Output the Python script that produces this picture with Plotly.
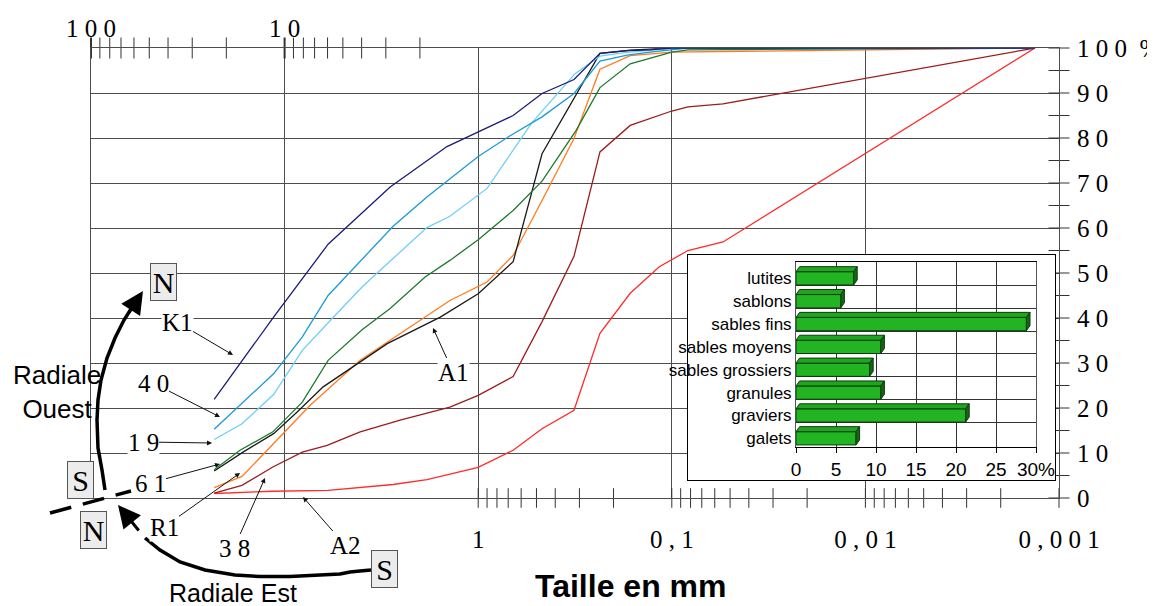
import plotly.graph_objects as go

# ---------------- data (grain size in mm, cumulative % passing) ----------------
K1_size = [23.1, 11.4, 5.96, 2.85, 1.45, 1.0, 0.66, 0.468, 0.32, 0.235, 0.17, 0.13, 0.1, 0.00133]
K1_pct = [21.9, 40.2, 56.4, 69.1, 78.1, 81.3, 85.0, 89.9, 93.0, 98.8, 99.4, 99.6, 100, 100]

S40_size = [23.1, 11.4, 8.1, 5.96, 2.75, 1.84, 1.0, 0.684, 0.468, 0.32, 0.235, 0.17, 0.13, 0.0825, 0.00133]
S40_pct = [15.3, 27.6, 35.8, 45.0, 60.4, 66.9, 75.9, 80.5, 84.7, 89.9, 97.1, 98.4, 99.1, 100, 100]

S19_size = [23.1, 16.6, 11.4, 8.1, 5.68, 3.98, 3.21, 1.84, 1.40, 0.90, 0.53, 0.316, 0.235, 0.179, 0.1, 0.00133]
S19_pct = [13.0, 16.5, 23.0, 32.8, 39.9, 46.9, 50.6, 60.1, 62.6, 68.8, 83.3, 94.3, 98.2, 98.9, 100, 100]

S61_size = [23.1, 17.0, 11.5, 8.1, 5.96, 3.98, 2.85, 1.88, 1.40, 1.0, 0.66, 0.468, 0.312, 0.235, 0.164, 0.1, 0.0825, 0.00133]
S61_pct = [6.3, 10.6, 14.7, 21.3, 30.6, 37.4, 42.1, 49.1, 52.8, 57.4, 63.9, 70.4, 81.7, 91.2, 96.5, 99.1, 99.6, 100]

A1_size = [23.1, 16.4, 11.4, 8.61, 6.32, 2.95, 1.57, 1.0, 0.66, 0.468, 0.235, 0.164, 0.1, 0.00133]
A1_pct = [6.0, 10.2, 14.3, 19.1, 24.7, 34.3, 40.2, 45.4, 52.5, 76.5, 98.8, 99.5, 100, 100]

R1_size = [23.1, 16.6, 12.3, 7.38, 4.07, 2.85, 1.88, 1.40, 0.90, 0.66, 0.468, 0.32, 0.235, 0.164, 0.1, 0.00133]
R1_pct = [2.3, 4.8, 10.6, 20.6, 30.6, 35.0, 40.2, 43.9, 48.0, 53.9, 66.1, 79.9, 95.3, 98.3, 99.1, 100]

S38_size = [23.1, 16.6, 11.5, 8.1, 6.03, 4.07, 2.53, 1.40, 1.0, 0.66, 0.468, 0.32, 0.235, 0.164, 0.1, 0.0825, 0.0544, 0.00133]
S38_pct = [1.1, 2.8, 6.9, 10.2, 11.7, 14.7, 17.3, 20.2, 22.8, 27.0, 39.2, 53.7, 76.9, 82.8, 86.0, 86.9, 87.6, 100]

A2_size = [23.1, 11.5, 5.96, 4.07, 2.75, 1.84, 1.0, 0.66, 0.468, 0.32, 0.235, 0.164, 0.116, 0.0825, 0.0544, 0.00133]
A2_pct = [1.0, 1.5, 1.7, 2.3, 3.0, 4.1, 6.8, 10.6, 15.4, 19.5, 36.6, 45.5, 51.4, 55.0, 56.9, 100]

# tick positions
x_major = [100, 10, 1, 0.1, 0.01, 0.001]
x_bottom_labels = ["", "", "1", "0 , 1", "0 , 0 1", "0 , 0 0 1"]
x_top_vals = [100, 10]
x_top_labels = ["1 0 0", "1 0"]
top_minor = [90, 80, 70, 60, 50, 40, 30, 20, 9, 8, 7, 6, 5, 4, 3, 2]
bottom_minor = [1, 0.9, 0.8, 0.7, 0.6, 0.5, 0.4, 0.3, 0.2,
                0.1, 0.09, 0.08, 0.07, 0.06, 0.05, 0.04, 0.03, 0.02,
                0.01, 0.009, 0.008, 0.007, 0.006, 0.005, 0.004, 0.003, 0.002, 0.001]
y_vals = [0, 10, 20, 30, 40, 50, 60, 70, 80, 90, 100]
y_labels = ["0", "1 0", "2 0", "3 0", "4 0", "5 0", "6 0", "7 0", "8 0", "9 0", "1 0 0\u00a0\u00a0%"]
y_ticks = [0, 5, 10, 15, 20, 25, 30, 35, 40, 45, 50, 55, 60, 65, 70, 75, 80, 85, 90, 95, 100]

# inset bar chart
inset_cats = ["galets", "graviers", "granules", "sables grossiers", "sables moyens",
              "sables fins", "sablons", "lutites"]
inset_vals = [7.5, 21.2, 10.6, 9.2, 10.6, 28.8, 5.6, 7.2]
inset_xticks = [0, 5, 10, 15, 20, 25, 30]
inset_xlabels = ["0", "5", "10", "15", "20", "25", "30%"]

# ---------------- geometry helpers ----------------
# page body has an 8px margin: figure is offset by (8, 8) in the screenshot
OFF = 8
W, H = 1155 - OFF, 606 - OFF
PL, PR, PT, PB = 91, 1059, 48, 498   # plot area in screenshot pixels
PW = PR - PL
PH = PB - PT


def px(x):
    return (x - PL) / PW


def py(y):
    return (PB - y) / PH


SERIF = "Liberation Serif"
SANS = "Liberation Sans"

fig = go.Figure()

curves = [
    (A2_size, A2_pct, "#ff2a2a"),
    (S38_size, S38_pct, "#9c1c1c"),
    (R1_size, R1_pct, "#ff7b1c"),
    (A1_size, A1_pct, "#1a1a1a"),
    (S61_size, S61_pct, "#1d7a2c"),
    (S19_size, S19_pct, "#6dcff6"),
    (S40_size, S40_pct, "#1a9ad6"),
    (K1_size, K1_pct, "#1b1b78"),
]
for xs, ys, col in curves:
    fig.add_trace(go.Scatter(x=xs, y=ys, mode="lines", line=dict(color=col, width=1.3),
                             hoverinfo="skip", showlegend=False))

# crossing tick marks
tick_line = dict(width=1, color="#333333")
fig.add_trace(go.Scatter(x=bottom_minor, y=[0] * len(bottom_minor), mode="markers",
                         marker=dict(symbol="line-ns", size=14, line=tick_line),
                         cliponaxis=False, hoverinfo="skip", showlegend=False))
fig.add_trace(go.Scatter(x=top_minor, y=[100] * len(top_minor), mode="markers",
                         marker=dict(symbol="line-ns", size=15, line=tick_line),
                         cliponaxis=False, hoverinfo="skip", showlegend=False))
fig.add_trace(go.Scatter(x=x_top_vals, y=[100] * len(x_top_vals), mode="markers",
                         marker=dict(symbol="line-ns", size=15, line=dict(width=2, color="#333333")),
                         cliponaxis=False, hoverinfo="skip", showlegend=False))
fig.add_trace(go.Scatter(x=[0.001] * len(y_ticks), y=y_ticks, mode="markers",
                         marker=dict(symbol="line-ew", size=15, line=tick_line),
                         cliponaxis=False, hoverinfo="skip", showlegend=False))
# ghost trace for top overlay axis
fig.add_trace(go.Scatter(x=[], y=[], xaxis="x4", yaxis="y", showlegend=False, hoverinfo="skip"))

# inset frame subplot (x2/y2)
fig.add_trace(go.Scatter(x=[], y=[], xaxis="x2", yaxis="y2", showlegend=False, hoverinfo="skip"))

# inset bars (x3/y3)
pos = list(range(len(inset_cats)))
h = 0.29
dx, dy = 0.45, 0.22
fig.add_trace(go.Bar(x=inset_vals, y=pos, orientation="h", width=2 * h,
                     marker=dict(color="#22b422", line=dict(color="#0b3d0b", width=1)),
                     xaxis="x3", yaxis="y3", showlegend=False, hoverinfo="skip"))
top_x, top_y, side_x, side_y = [], [], [], []
for i, v in zip(pos, inset_vals):
    top_x += [0, v, v + dx, dx, 0, None]
    top_y += [i + h, i + h, i + h + dy, i + h + dy, i + h, None]
    side_x += [v, v, v + dx, v + dx, v, None]
    side_y += [i - h, i + h, i + h + dy, i - h + dy, i - h, None]
fig.add_trace(go.Scatter(x=top_x, y=top_y, mode="lines", fill="toself", fillcolor="#1fa51f",
                         line=dict(color="#0b3d0b", width=1), xaxis="x3", yaxis="y3",
                         showlegend=False, hoverinfo="skip"))
fig.add_trace(go.Scatter(x=side_x, y=side_y, mode="lines", fill="toself", fillcolor="#146814",
                         line=dict(color="#0b3d0b", width=1), xaxis="x3", yaxis="y3",
                         showlegend=False, hoverinfo="skip"))

GRID = "#4d4d4d"
tickfont = dict(family=SERIF, size=25, color="black")

fig.update_layout(
    template="none",
    width=W, height=H,
    margin=dict(l=PL - OFF, r=W - (PR - OFF), t=PT - OFF, b=H - (PB - OFF), pad=0),
    paper_bgcolor="white", plot_bgcolor="white",
    showlegend=False,
    xaxis=dict(type="log", range=[2, -3], domain=[0, 1], anchor="y", side="bottom",
               tickmode="array", tickvals=x_major, ticktext=x_bottom_labels,
               ticks="", showgrid=True, gridcolor=GRID, gridwidth=1, zeroline=False,
               showline=True, mirror=True, linecolor=GRID, linewidth=1,
               tickfont=tickfont, ticklabelstandoff=19, automargin=False),
    xaxis4=dict(type="log", range=[2, -3], overlaying="x", anchor="y", side="top",
                tickmode="array", tickvals=x_top_vals, ticktext=x_top_labels,
                ticks="", showgrid=False, zeroline=False, showline=False,
                tickfont=tickfont, ticklabelstandoff=5, automargin=False),
    yaxis=dict(range=[0, 100], domain=[0, 1], anchor="x", side="right",
               tickmode="array", tickvals=y_vals, ticktext=y_labels,
               ticks="", showgrid=True, gridcolor=GRID, gridwidth=1, zeroline=False,
               showline=True, mirror=True, linecolor=GRID, linewidth=1,
               tickfont=tickfont, ticklabelstandoff=12, automargin=False),
    xaxis2=dict(domain=[px(688), px(1055)], range=[0, 1], anchor="y2",
                showgrid=False, zeroline=False, showticklabels=False, ticks="",
                showline=True, mirror=True, linecolor="black", linewidth=1, automargin=False),
    yaxis2=dict(domain=[py(480), py(255)], range=[0, 1], anchor="x2",
                showgrid=False, zeroline=False, showticklabels=False, ticks="",
                showline=True, mirror=True, linecolor="black", linewidth=1, automargin=False),
    xaxis3=dict(domain=[px(796), px(1036)], range=[0, 30], anchor="y3",
                tickmode="array", tickvals=inset_xticks, ticktext=inset_xlabels,
                ticks="outside", ticklen=5, tickcolor="black",
                showgrid=True, gridcolor="#333333", gridwidth=1, zeroline=False,
                showline=True, mirror=True, linecolor="black", linewidth=1,
                tickfont=dict(family=SANS, size=19, color="black"), automargin=False),
    yaxis3=dict(domain=[py(446.7), py(261.7)], range=[-0.367, 7.727], anchor="x3",
                tickmode="array", tickvals=pos, ticktext=inset_cats, ticks="",
                showgrid=False, zeroline=False,
                minor=dict(tickmode="array", tickvals=[p + 0.69 for p in pos[:-1]],
                           showgrid=True, gridcolor="#333333", gridwidth=1, ticks=""),
                showline=True, mirror=True, linecolor="#555555", linewidth=1,
                tickfont=dict(family=SANS, size=17, color="black"), automargin=False),
)

annotations = []
lab_font = dict(family=SERIF, size=25, color="black")
labels = [
    ("K1", 233, 355, 177, 322),
    ("4 0", 220, 417, 153, 383),
    ("1 9", 212, 443, 143, 442),
    ("6 1", 220, 464, 150, 483),
    ("R1", 240, 473, 164, 527),
    ("3 8", 265, 478, 234, 548),
    ("A2", 303, 497, 345, 545),
    ("A1", 433, 328, 453, 372),
]
for txt, tx, ty, cx, cy in labels:
    annotations.append(dict(text=txt, x=px(tx), y=py(ty), xref="paper", yref="paper",
                            ax=cx - tx, ay=cy - ty, showarrow=True, arrowhead=2,
                            arrowsize=1, arrowwidth=1, arrowcolor="#111111",
                            font=lab_font, bgcolor="white", borderpad=0))

for txt, cx, cy in [("N", 163, 282), ("S", 80, 480), ("N", 93, 530), ("S", 384, 569)]:
    annotations.append(dict(text=txt, x=px(cx), y=py(cy), xref="paper", yref="paper",
                            showarrow=False, xanchor="center", yanchor="middle",
                            font=dict(family=SERIF, size=30, color="black"),
                            bgcolor="#ececec", bordercolor="#555555", borderwidth=1,
                            borderpad=0, width=25, height=36))

annotations.append(dict(text="Radiale<br>Ouest", x=px(57), y=py(392), xref="paper", yref="paper",
                        showarrow=False, xanchor="center", yanchor="middle", align="center",
                        font=dict(family=SANS, size=26, color="black")))
annotations.append(dict(text="Radiale Est", x=px(233), y=py(593), xref="paper", yref="paper",
                        showarrow=False, xanchor="center", yanchor="middle",
                        font=dict(family=SANS, size=25, color="black")))
annotations.append(dict(text="<b>Taille en mm</b>", x=px(630), y=py(586), xref="paper", yref="paper",
                        showarrow=False, xanchor="center", yanchor="middle",
                        font=dict(family=SANS, size=32, color="black")))

# arrowheads of the curved arrows
annotations.append(dict(text="", x=px(143), y=py(291), xref="paper", yref="paper",
                        ax=-15, ay=23, showarrow=True, arrowhead=2, arrowsize=1.5,
                        arrowwidth=3, arrowcolor="black"))
annotations.append(dict(text="", x=px(118), y=py(505), xref="paper", yref="paper",
                        ax=22, ay=27, showarrow=True, arrowhead=2, arrowsize=1.5,
                        arrowwidth=3, arrowcolor="black"))


def path_from(points):
    return "M " + " L ".join(f"{px(a):.5f},{py(b):.5f}" for a, b in points)


ouest_pts = [(105, 490), (102, 470), (98, 448), (97, 420), (98, 400), (101, 380),
             (107, 358), (115, 338), (124, 320), (131, 309)]
est_pts = [(371, 570), (360, 571), (350, 572), (340, 574), (320, 575), (290, 576.5),
           (260, 576.5), (235, 575), (205, 570), (180, 562), (160, 550), (145, 538)]
shapes = [
    dict(type="path", path=path_from(ouest_pts), xref="paper", yref="paper",
         line=dict(color="black", width=3.5), layer="above"),
    dict(type="path", path=path_from(est_pts), xref="paper", yref="paper",
         line=dict(color="black", width=3.5), layer="above"),
    dict(type="line", x0=px(50), y0=py(513), x1=px(131), y1=py(491), xref="paper", yref="paper",
         line=dict(color="black", width=3.5, dash="22px,12px"), layer="above"),
]
fig.update_layout(annotations=annotations, shapes=shapes)

fig.write_html("out.html")
